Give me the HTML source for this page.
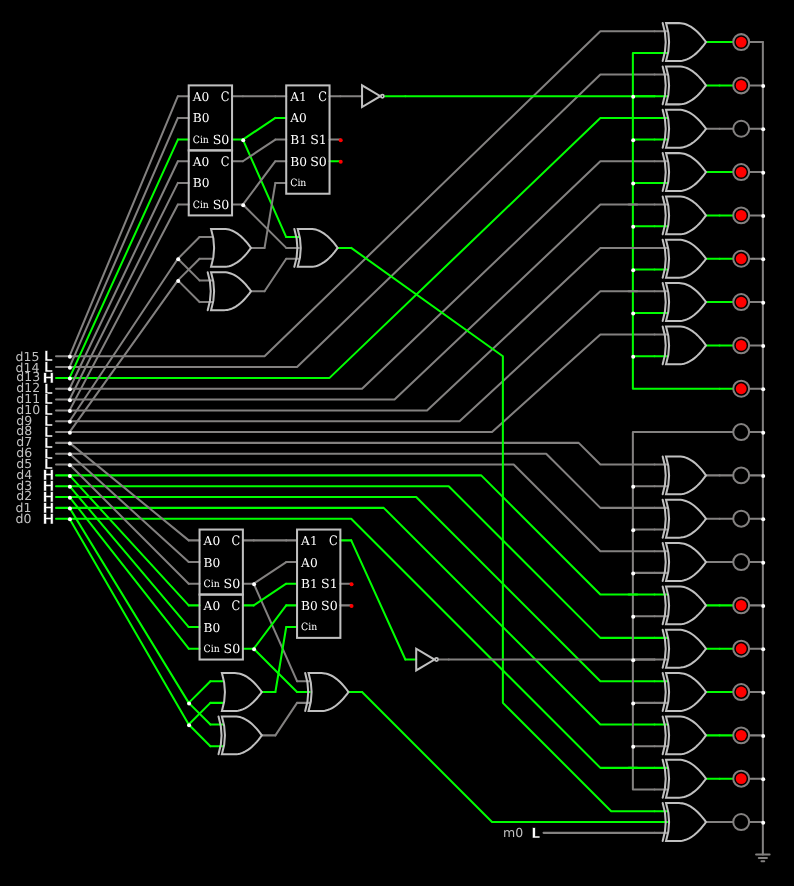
<!DOCTYPE html>
<html><head><meta charset="utf-8"><title>circuit</title>
<style>html,body{margin:0;padding:0;background:#000;overflow:hidden}svg{display:block;will-change:transform}.pin{font-family:"DejaVu Serif","Liberation Serif",serif;fill:#fff}.lv{font-family:"DejaVu Sans","Liberation Sans",sans-serif;font-weight:bold;font-size:14.2px;fill:#fff;stroke:#000;stroke-width:.5px}.lbl{font-family:"DejaVu Sans","Liberation Sans",sans-serif;font-size:12.5px;fill:#c0c0c0}</style></head><body>
<svg width="794" height="886" viewBox="0 0 794 886">
<rect width="794" height="886" fill="#000"/>
<g fill="none" stroke-width="2.03" stroke-linecap="round" stroke-linejoin="round">
<path d="M56.02 356.22 L69.56 356.22" stroke="#838180"/>
<path d="M56.02 367.05 L69.56 367.05" stroke="#838180"/>
<path d="M56.02 377.89 L69.56 377.89" stroke="#00ff00"/>
<path d="M56.02 388.72 L69.56 388.72" stroke="#838180"/>
<path d="M56.02 399.55 L69.56 399.55" stroke="#838180"/>
<path d="M56.02 410.39 L69.56 410.39" stroke="#838180"/>
<path d="M56.02 421.22 L69.56 421.22" stroke="#838180"/>
<path d="M56.02 432.05 L69.56 432.05" stroke="#838180"/>
<path d="M56.02 442.88 L69.56 442.88" stroke="#838180"/>
<path d="M56.02 453.72 L69.56 453.72" stroke="#838180"/>
<path d="M56.02 464.55 L69.56 464.55" stroke="#838180"/>
<path d="M56.02 475.38 L69.56 475.38" stroke="#00ff00"/>
<path d="M56.02 486.21 L69.56 486.21" stroke="#00ff00"/>
<path d="M56.02 497.05 L69.56 497.05" stroke="#00ff00"/>
<path d="M56.02 507.88 L69.56 507.88" stroke="#00ff00"/>
<path d="M56.02 518.71 L69.56 518.71" stroke="#00ff00"/>
<path d="M69.56 356.22 L264.55 356.22 L600.37 31.24 L654.53 31.24" stroke="#838180"/>
<path d="M69.56 367.05 L297.05 367.05 L600.37 74.57 L654.53 74.57" stroke="#838180"/>
<path d="M69.56 377.89 L329.55 377.89 L600.37 117.9 L654.53 117.9" stroke="#00ff00"/>
<path d="M69.56 388.72 L362.05 388.72 L600.37 161.23 L654.53 161.23" stroke="#838180"/>
<path d="M69.56 399.55 L394.54 399.55 L600.37 204.56 L654.53 204.56" stroke="#838180"/>
<path d="M69.56 410.39 L427.04 410.39 L600.37 247.89 L654.53 247.89" stroke="#838180"/>
<path d="M69.56 421.22 L459.54 421.22 L600.37 291.22 L654.53 291.22" stroke="#838180"/>
<path d="M69.56 432.05 L492.04 432.05 L600.37 334.56 L654.53 334.56" stroke="#838180"/>
<path d="M69.56 442.88 L578.7 442.88 L600.37 464.55 L654.53 464.55" stroke="#838180"/>
<path d="M69.56 453.72 L546.2 453.72 L600.37 507.88 L654.53 507.88" stroke="#838180"/>
<path d="M69.56 464.55 L513.7 464.55 L600.37 551.21 L654.53 551.21" stroke="#838180"/>
<path d="M69.56 475.38 L481.21 475.38 L600.37 594.54 L654.53 594.54" stroke="#00ff00"/>
<path d="M69.56 486.21 L448.71 486.21 L600.37 637.87 L654.53 637.87" stroke="#00ff00"/>
<path d="M69.56 497.05 L416.21 497.05 L600.37 681.21 L654.53 681.21" stroke="#00ff00"/>
<path d="M69.56 507.88 L383.71 507.88 L600.37 724.54 L654.53 724.54" stroke="#00ff00"/>
<path d="M69.56 518.71 L351.21 518.71 L600.37 767.87 L654.53 767.87" stroke="#00ff00"/>
<path d="M69.56 356.22 L177.89 96.23" stroke="#838180"/>
<path d="M69.56 367.05 L177.89 117.9" stroke="#838180"/>
<path d="M69.56 377.89 L177.89 139.57" stroke="#00ff00"/>
<path d="M69.56 388.72 L177.89 161.23" stroke="#838180"/>
<path d="M69.56 399.55 L177.89 182.9" stroke="#838180"/>
<path d="M69.56 410.39 L177.89 204.56" stroke="#838180"/>
<path d="M69.56 421.22 L177.89 258.73" stroke="#838180"/>
<path d="M69.56 432.05 L177.89 280.39" stroke="#838180"/>
<path d="M69.56 442.88 L188.72 540.38" stroke="#838180"/>
<path d="M69.56 453.72 L188.72 562.04" stroke="#838180"/>
<path d="M69.56 464.55 L188.72 583.71" stroke="#838180"/>
<path d="M69.56 475.38 L188.72 605.38" stroke="#00ff00"/>
<path d="M69.56 486.21 L188.72 627.04" stroke="#00ff00"/>
<path d="M69.56 497.05 L188.72 648.71" stroke="#00ff00"/>
<path d="M69.56 507.88 L188.72 702.87" stroke="#00ff00"/>
<path d="M69.56 518.71 L188.72 724.54" stroke="#00ff00"/>
<path d="M177.89 96.23 L188.72 96.23" stroke="#838180"/>
<path d="M177.89 117.9 L188.72 117.9" stroke="#838180"/>
<path d="M177.89 139.57 L188.72 139.57" stroke="#00ff00"/>
<path d="M232.05 96.23 L242.88 96.23" stroke="#838180"/>
<path d="M232.05 139.57 L242.88 139.57" stroke="#00ff00"/>
<path d="M177.89 161.23 L188.72 161.23" stroke="#838180"/>
<path d="M177.89 182.9 L188.72 182.9" stroke="#838180"/>
<path d="M177.89 204.56 L188.72 204.56" stroke="#838180"/>
<path d="M232.05 161.23 L242.88 161.23" stroke="#838180"/>
<path d="M232.05 204.56 L242.88 204.56" stroke="#838180"/>
<path d="M275.38 96.23 L286.22 96.23" stroke="#838180"/>
<path d="M275.38 117.9 L286.22 117.9" stroke="#00ff00"/>
<path d="M275.38 139.57 L286.22 139.57" stroke="#838180"/>
<path d="M275.38 161.23 L286.22 161.23" stroke="#838180"/>
<path d="M275.38 182.9 L286.22 182.9" stroke="#838180"/>
<path d="M329.55 96.23 L340.38 96.23" stroke="#838180"/>
<path d="M329.55 139.57 L340.38 139.57" stroke="#838180"/>
<path d="M329.55 161.23 L340.38 161.23" stroke="#00ff00"/>
<path d="M242.88 96.23 L275.38 96.23" stroke="#838180"/>
<path d="M242.88 139.57 L275.38 117.9" stroke="#00ff00"/>
<path d="M242.88 139.57 L286.22 237.06" stroke="#00ff00"/>
<path d="M242.88 161.23 L275.38 139.57" stroke="#838180"/>
<path d="M242.88 204.56 L275.38 161.23" stroke="#838180"/>
<path d="M242.88 204.56 L286.22 247.89" stroke="#838180"/>
<path d="M177.89 258.73 L199.55 237.06" stroke="#838180"/>
<path d="M177.89 258.73 L199.55 280.39" stroke="#838180"/>
<path d="M177.89 280.39 L199.55 258.73" stroke="#838180"/>
<path d="M177.89 280.39 L199.55 302.06" stroke="#838180"/>
<path d="M199.55 237.06 L212.42 237.06" stroke="#838180"/>
<path d="M199.55 258.73 L212.42 258.73" stroke="#838180"/>
<path d="M251.01 247.89 L264.55 247.89" stroke="#838180"/>
<path d="M199.55 280.39 L212.42 280.39" stroke="#838180"/>
<path d="M199.55 302.06 L212.42 302.06" stroke="#838180"/>
<path d="M251.01 291.22 L264.55 291.22" stroke="#838180"/>
<path d="M264.55 247.89 L275.38 182.9" stroke="#838180"/>
<path d="M264.55 291.22 L286.22 258.73" stroke="#838180"/>
<path d="M286.22 237.06 L299.08 237.06" stroke="#00ff00"/>
<path d="M286.22 247.89 L299.08 247.89" stroke="#838180"/>
<path d="M286.22 258.73 L299.08 258.73" stroke="#838180"/>
<path d="M337.67 247.89 L351.21 247.89" stroke="#00ff00"/>
<path d="M351.21 247.89 L502.87 356.22 L502.87 702.87 L611.2 811.2 L654.53 811.2" stroke="#00ff00"/>
<path d="M340.38 96.23 L362.05 96.23" stroke="#838180"/>
<path d="M385.07 96.23 L405.38 96.23" stroke="#00ff00"/>
<path d="M405.38 96.23 L632.87 96.23 L654.53 96.23" stroke="#00ff00"/>
<path d="M188.72 540.38 L199.55 540.38" stroke="#838180"/>
<path d="M188.72 562.04 L199.55 562.04" stroke="#838180"/>
<path d="M188.72 583.71 L199.55 583.71" stroke="#838180"/>
<path d="M242.88 540.38 L253.72 540.38" stroke="#838180"/>
<path d="M242.88 583.71 L253.72 583.71" stroke="#838180"/>
<path d="M188.72 605.38 L199.55 605.38" stroke="#00ff00"/>
<path d="M188.72 627.04 L199.55 627.04" stroke="#00ff00"/>
<path d="M188.72 648.71 L199.55 648.71" stroke="#00ff00"/>
<path d="M242.88 605.38 L253.72 605.38" stroke="#00ff00"/>
<path d="M242.88 648.71 L253.72 648.71" stroke="#00ff00"/>
<path d="M286.22 540.38 L297.05 540.38" stroke="#838180"/>
<path d="M286.22 562.04 L297.05 562.04" stroke="#838180"/>
<path d="M286.22 583.71 L297.05 583.71" stroke="#00ff00"/>
<path d="M286.22 605.38 L297.05 605.38" stroke="#00ff00"/>
<path d="M286.22 627.04 L297.05 627.04" stroke="#00ff00"/>
<path d="M340.38 540.38 L351.21 540.38" stroke="#00ff00"/>
<path d="M340.38 583.71 L351.21 583.71" stroke="#838180"/>
<path d="M340.38 605.38 L351.21 605.38" stroke="#838180"/>
<path d="M253.72 540.38 L286.22 540.38" stroke="#838180"/>
<path d="M253.72 583.71 L286.22 562.04" stroke="#838180"/>
<path d="M253.72 583.71 L297.05 681.21" stroke="#838180"/>
<path d="M253.72 605.38 L286.22 583.71" stroke="#00ff00"/>
<path d="M253.72 648.71 L286.22 605.38" stroke="#00ff00"/>
<path d="M253.72 648.71 L297.05 692.04" stroke="#00ff00"/>
<path d="M188.72 702.87 L210.39 681.21" stroke="#00ff00"/>
<path d="M188.72 702.87 L210.39 724.54" stroke="#00ff00"/>
<path d="M188.72 724.54 L210.39 702.87" stroke="#00ff00"/>
<path d="M188.72 724.54 L210.39 746.2" stroke="#00ff00"/>
<path d="M210.39 681.21 L223.25 681.21" stroke="#00ff00"/>
<path d="M210.39 702.87 L223.25 702.87" stroke="#00ff00"/>
<path d="M261.84 692.04 L275.38 692.04" stroke="#00ff00"/>
<path d="M210.39 724.54 L223.25 724.54" stroke="#00ff00"/>
<path d="M210.39 746.2 L223.25 746.2" stroke="#00ff00"/>
<path d="M261.84 735.37 L275.38 735.37" stroke="#838180"/>
<path d="M275.38 692.04 L286.22 627.04" stroke="#00ff00"/>
<path d="M275.38 735.37 L297.05 702.87" stroke="#838180"/>
<path d="M297.05 681.21 L309.91 681.21" stroke="#838180"/>
<path d="M297.05 692.04 L309.91 692.04" stroke="#00ff00"/>
<path d="M297.05 702.87 L309.91 702.87" stroke="#838180"/>
<path d="M348.5 692.04 L362.05 692.04" stroke="#00ff00"/>
<path d="M362.05 692.04 L492.04 822.03 L654.53 822.03" stroke="#00ff00"/>
<path d="M351.21 540.38 L405.38 659.54" stroke="#00ff00"/>
<path d="M405.38 659.54 L416.21 659.54" stroke="#00ff00"/>
<path d="M439.23 659.54 L448.71 659.54" stroke="#838180"/>
<path d="M448.71 659.54 L632.87 659.54 L654.53 659.54" stroke="#838180"/>
<path d="M654.53 52.9 L632.87 52.9 L632.87 388.72 L719.53 388.72" stroke="#00ff00"/>
<path d="M632.87 96.23 L654.53 96.23" stroke="#00ff00"/>
<path d="M632.87 139.57 L654.53 139.57" stroke="#00ff00"/>
<path d="M632.87 182.9 L654.53 182.9" stroke="#00ff00"/>
<path d="M632.87 226.23 L654.53 226.23" stroke="#00ff00"/>
<path d="M632.87 269.56 L654.53 269.56" stroke="#00ff00"/>
<path d="M632.87 312.89 L654.53 312.89" stroke="#00ff00"/>
<path d="M632.87 356.22 L654.53 356.22" stroke="#00ff00"/>
<path d="M719.53 432.05 L632.87 432.05 L632.87 789.53 L654.53 789.53" stroke="#838180"/>
<path d="M632.87 486.21 L654.53 486.21" stroke="#838180"/>
<path d="M632.87 529.55 L654.53 529.55" stroke="#838180"/>
<path d="M632.87 572.88 L654.53 572.88" stroke="#838180"/>
<path d="M632.87 616.21 L654.53 616.21" stroke="#838180"/>
<path d="M632.87 659.54 L654.53 659.54" stroke="#838180"/>
<path d="M632.87 702.87 L654.53 702.87" stroke="#838180"/>
<path d="M632.87 746.2 L654.53 746.2" stroke="#838180"/>
<path d="M628.53 204.56 L637.2 204.56" stroke="#838180"/>
<path d="M628.53 247.89 L637.2 247.89" stroke="#838180"/>
<path d="M628.53 291.22 L637.2 291.22" stroke="#838180"/>
<path d="M628.53 594.54 L637.2 594.54" stroke="#00ff00"/>
<path d="M628.53 767.87 L637.2 767.87" stroke="#00ff00"/>
<path d="M654.53 31.24 L667.4 31.24" stroke="#838180"/>
<path d="M654.53 52.9 L667.4 52.9" stroke="#00ff00"/>
<path d="M705.99 42.07 L719.53 42.07" stroke="#00ff00"/>
<path d="M654.53 74.57 L667.4 74.57" stroke="#838180"/>
<path d="M654.53 96.23 L667.4 96.23" stroke="#00ff00"/>
<path d="M705.99 85.4 L719.53 85.4" stroke="#00ff00"/>
<path d="M654.53 117.9 L667.4 117.9" stroke="#00ff00"/>
<path d="M654.53 139.57 L667.4 139.57" stroke="#00ff00"/>
<path d="M705.99 128.73 L719.53 128.73" stroke="#838180"/>
<path d="M654.53 161.23 L667.4 161.23" stroke="#838180"/>
<path d="M654.53 182.9 L667.4 182.9" stroke="#00ff00"/>
<path d="M705.99 172.06 L719.53 172.06" stroke="#00ff00"/>
<path d="M654.53 204.56 L667.4 204.56" stroke="#838180"/>
<path d="M654.53 226.23 L667.4 226.23" stroke="#00ff00"/>
<path d="M705.99 215.39 L719.53 215.39" stroke="#00ff00"/>
<path d="M654.53 247.89 L667.4 247.89" stroke="#838180"/>
<path d="M654.53 269.56 L667.4 269.56" stroke="#00ff00"/>
<path d="M705.99 258.73 L719.53 258.73" stroke="#00ff00"/>
<path d="M654.53 291.22 L667.4 291.22" stroke="#838180"/>
<path d="M654.53 312.89 L667.4 312.89" stroke="#00ff00"/>
<path d="M705.99 302.06 L719.53 302.06" stroke="#00ff00"/>
<path d="M654.53 334.56 L667.4 334.56" stroke="#838180"/>
<path d="M654.53 356.22 L667.4 356.22" stroke="#00ff00"/>
<path d="M705.99 345.39 L719.53 345.39" stroke="#00ff00"/>
<path d="M654.53 464.55 L667.4 464.55" stroke="#838180"/>
<path d="M654.53 486.21 L667.4 486.21" stroke="#838180"/>
<path d="M705.99 475.38 L719.53 475.38" stroke="#838180"/>
<path d="M654.53 507.88 L667.4 507.88" stroke="#838180"/>
<path d="M654.53 529.55 L667.4 529.55" stroke="#838180"/>
<path d="M705.99 518.71 L719.53 518.71" stroke="#838180"/>
<path d="M654.53 551.21 L667.4 551.21" stroke="#838180"/>
<path d="M654.53 572.88 L667.4 572.88" stroke="#838180"/>
<path d="M705.99 562.04 L719.53 562.04" stroke="#838180"/>
<path d="M654.53 594.54 L667.4 594.54" stroke="#00ff00"/>
<path d="M654.53 616.21 L667.4 616.21" stroke="#838180"/>
<path d="M705.99 605.38 L719.53 605.38" stroke="#00ff00"/>
<path d="M654.53 637.87 L667.4 637.87" stroke="#00ff00"/>
<path d="M654.53 659.54 L667.4 659.54" stroke="#838180"/>
<path d="M705.99 648.71 L719.53 648.71" stroke="#00ff00"/>
<path d="M654.53 681.21 L667.4 681.21" stroke="#00ff00"/>
<path d="M654.53 702.87 L667.4 702.87" stroke="#838180"/>
<path d="M705.99 692.04 L719.53 692.04" stroke="#00ff00"/>
<path d="M654.53 724.54 L667.4 724.54" stroke="#00ff00"/>
<path d="M654.53 746.2 L667.4 746.2" stroke="#838180"/>
<path d="M705.99 735.37 L719.53 735.37" stroke="#00ff00"/>
<path d="M654.53 767.87 L667.4 767.87" stroke="#00ff00"/>
<path d="M654.53 789.53 L667.4 789.53" stroke="#838180"/>
<path d="M705.99 778.7 L719.53 778.7" stroke="#00ff00"/>
<path d="M654.53 811.2 L667.4 811.2" stroke="#00ff00"/>
<path d="M654.53 822.03 L667.4 822.03" stroke="#00ff00"/>
<path d="M654.53 832.86 L667.4 832.86" stroke="#838180"/>
<path d="M705.99 822.03 L719.53 822.03" stroke="#838180"/>
<path d="M719.53 42.07 L733.07 42.07" stroke="#00ff00"/>
<path d="M749.32 42.07 L762.86 42.07" stroke="#838180"/>
<path d="M719.53 85.4 L733.07 85.4" stroke="#00ff00"/>
<path d="M749.32 85.4 L762.86 85.4" stroke="#838180"/>
<path d="M719.53 128.73 L733.07 128.73" stroke="#838180"/>
<path d="M749.32 128.73 L762.86 128.73" stroke="#838180"/>
<path d="M719.53 172.06 L733.07 172.06" stroke="#00ff00"/>
<path d="M749.32 172.06 L762.86 172.06" stroke="#838180"/>
<path d="M719.53 215.39 L733.07 215.39" stroke="#00ff00"/>
<path d="M749.32 215.39 L762.86 215.39" stroke="#838180"/>
<path d="M719.53 258.73 L733.07 258.73" stroke="#00ff00"/>
<path d="M749.32 258.73 L762.86 258.73" stroke="#838180"/>
<path d="M719.53 302.06 L733.07 302.06" stroke="#00ff00"/>
<path d="M749.32 302.06 L762.86 302.06" stroke="#838180"/>
<path d="M719.53 345.39 L733.07 345.39" stroke="#00ff00"/>
<path d="M749.32 345.39 L762.86 345.39" stroke="#838180"/>
<path d="M719.53 388.72 L733.07 388.72" stroke="#00ff00"/>
<path d="M749.32 388.72 L762.86 388.72" stroke="#838180"/>
<path d="M719.53 432.05 L733.07 432.05" stroke="#838180"/>
<path d="M749.32 432.05 L762.86 432.05" stroke="#838180"/>
<path d="M719.53 475.38 L733.07 475.38" stroke="#838180"/>
<path d="M749.32 475.38 L762.86 475.38" stroke="#838180"/>
<path d="M719.53 518.71 L733.07 518.71" stroke="#838180"/>
<path d="M749.32 518.71 L762.86 518.71" stroke="#838180"/>
<path d="M719.53 562.04 L733.07 562.04" stroke="#838180"/>
<path d="M749.32 562.04 L762.86 562.04" stroke="#838180"/>
<path d="M719.53 605.38 L733.07 605.38" stroke="#00ff00"/>
<path d="M749.32 605.38 L762.86 605.38" stroke="#838180"/>
<path d="M719.53 648.71 L733.07 648.71" stroke="#00ff00"/>
<path d="M749.32 648.71 L762.86 648.71" stroke="#838180"/>
<path d="M719.53 692.04 L733.07 692.04" stroke="#00ff00"/>
<path d="M749.32 692.04 L762.86 692.04" stroke="#838180"/>
<path d="M719.53 735.37 L733.07 735.37" stroke="#00ff00"/>
<path d="M749.32 735.37 L762.86 735.37" stroke="#838180"/>
<path d="M719.53 778.7 L733.07 778.7" stroke="#00ff00"/>
<path d="M749.32 778.7 L762.86 778.7" stroke="#838180"/>
<path d="M719.53 822.03 L733.07 822.03" stroke="#838180"/>
<path d="M749.32 822.03 L762.86 822.03" stroke="#838180"/>
<path d="M762.86 42.07 L762.86 854.53" stroke="#838180"/>
<path d="M756.09 854.53 L769.63 854.53" stroke="#838180"/>
<path d="M758.8 857.92 L766.92 857.92" stroke="#838180"/>
<path d="M761.51 861.3 L764.21 861.3" stroke="#838180"/>
<path d="M543.5 832.86 L654.53 832.86" stroke="#838180"/>
</g>
<rect x="188.72" y="85.4" width="43.33" height="65" fill="none" stroke="#c0c0c0" stroke-width="2.03"/>
<rect x="188.72" y="150.4" width="43.33" height="65" fill="none" stroke="#c0c0c0" stroke-width="2.03"/>
<rect x="286.22" y="85.4" width="43.33" height="108.33" fill="none" stroke="#c0c0c0" stroke-width="2.03"/>
<path d="M224 228.94 L225.68 229.01 L227.37 229.23 L229.06 229.6 L230.75 230.12 L232.44 230.79 L234.13 231.6 L235.81 232.56 L237.5 233.68 L239.19 234.93 L240.88 236.34 L242.57 237.9 L244.26 239.6 L245.94 241.45 L247.63 243.45 L249.32 245.6 L251.01 247.89 L249.32 250.19 L247.63 252.34 L245.94 254.34 L244.26 256.19 L242.57 257.89 L240.88 259.45 L239.19 260.85 L237.5 262.11 L235.81 263.22 L234.13 264.18 L232.44 265 L230.75 265.67 L229.06 266.18 L227.37 266.55 L225.68 266.78 L224 266.85 L211.06 266.85 L213.35 257.37 L214.11 247.89 L213.35 238.41 L211.06 228.94Z" fill="none" stroke="#c0c0c0" stroke-width="2.03" stroke-linejoin="miter"/>
<path d="M224 272.27 L225.68 272.34 L227.37 272.56 L229.06 272.93 L230.75 273.45 L232.44 274.12 L234.13 274.93 L235.81 275.9 L237.5 277.01 L239.19 278.27 L240.88 279.67 L242.57 281.23 L244.26 282.93 L245.94 284.78 L247.63 286.78 L249.32 288.93 L251.01 291.22 L249.32 293.52 L247.63 295.67 L245.94 297.67 L244.26 299.52 L242.57 301.22 L240.88 302.78 L239.19 304.18 L237.5 305.44 L235.81 306.55 L234.13 307.52 L232.44 308.33 L230.75 309 L229.06 309.52 L227.37 309.89 L225.68 310.11 L224 310.18 L211.06 310.18 L213.35 300.7 L214.11 291.22 L213.35 281.75 L211.06 272.27Z" fill="none" stroke="#c0c0c0" stroke-width="2.03" stroke-linejoin="miter"/>
<path d="M207.68 272.27 L209.96 281.75 L210.72 291.22 L209.96 300.7 L207.68 310.18" fill="none" stroke="#c0c0c0" stroke-width="2.03" stroke-linecap="round" stroke-linejoin="round"/>
<path d="M310.66 228.94 L312.35 229.01 L314.03 229.23 L315.72 229.6 L317.41 230.12 L319.1 230.79 L320.79 231.6 L322.48 232.56 L324.16 233.68 L325.85 234.93 L327.54 236.34 L329.23 237.9 L330.92 239.6 L332.61 241.45 L334.3 243.45 L335.98 245.6 L337.67 247.89 L335.98 250.19 L334.3 252.34 L332.61 254.34 L330.92 256.19 L329.23 257.89 L327.54 259.45 L325.85 260.85 L324.16 262.11 L322.48 263.22 L320.79 264.18 L319.1 265 L317.41 265.67 L315.72 266.18 L314.03 266.55 L312.35 266.78 L310.66 266.85 L297.73 266.85 L300.01 257.37 L300.77 247.89 L300.01 238.41 L297.73 228.94Z" fill="none" stroke="#c0c0c0" stroke-width="2.03" stroke-linejoin="miter"/>
<path d="M294.34 228.94 L296.63 238.41 L297.39 247.89 L296.63 257.37 L294.34 266.85" fill="none" stroke="#c0c0c0" stroke-width="2.03" stroke-linecap="round" stroke-linejoin="round"/>
<path d="M362.05 85.4 L362.05 107.07 L380.33 96.23Z" fill="none" stroke="#c0c0c0" stroke-width="2.03"/>
<circle cx="382.36" cy="96.23" r="1.56" fill="none" stroke="#c0c0c0" stroke-width="1.73"/>
<rect x="199.55" y="529.55" width="43.33" height="65" fill="none" stroke="#c0c0c0" stroke-width="2.03"/>
<rect x="199.55" y="594.54" width="43.33" height="65" fill="none" stroke="#c0c0c0" stroke-width="2.03"/>
<rect x="297.05" y="529.55" width="43.33" height="108.33" fill="none" stroke="#c0c0c0" stroke-width="2.03"/>
<path d="M234.83 673.08 L236.52 673.15 L238.2 673.38 L239.89 673.75 L241.58 674.27 L243.27 674.93 L244.96 675.75 L246.65 676.71 L248.34 677.82 L250.02 679.08 L251.71 680.49 L253.4 682.04 L255.09 683.74 L256.78 685.6 L258.47 687.59 L260.15 689.74 L261.84 692.04 L260.15 694.33 L258.47 696.48 L256.78 698.48 L255.09 700.33 L253.4 702.04 L251.71 703.59 L250.02 705 L248.34 706.26 L246.65 707.37 L244.96 708.33 L243.27 709.14 L241.58 709.81 L239.89 710.33 L238.2 710.7 L236.52 710.92 L234.83 711 L221.9 711 L224.18 701.52 L224.94 692.04 L224.18 682.56 L221.9 673.08Z" fill="none" stroke="#c0c0c0" stroke-width="2.03" stroke-linejoin="miter"/>
<path d="M234.83 716.41 L236.52 716.49 L238.2 716.71 L239.89 717.08 L241.58 717.6 L243.27 718.26 L244.96 719.08 L246.65 720.04 L248.34 721.15 L250.02 722.41 L251.71 723.82 L253.4 725.37 L255.09 727.08 L256.78 728.93 L258.47 730.93 L260.15 733.07 L261.84 735.37 L260.15 737.66 L258.47 739.81 L256.78 741.81 L255.09 743.66 L253.4 745.37 L251.71 746.92 L250.02 748.33 L248.34 749.59 L246.65 750.7 L244.96 751.66 L243.27 752.48 L241.58 753.14 L239.89 753.66 L238.2 754.03 L236.52 754.25 L234.83 754.33 L221.9 754.33 L224.18 744.85 L224.94 735.37 L224.18 725.89 L221.9 716.41Z" fill="none" stroke="#c0c0c0" stroke-width="2.03" stroke-linejoin="miter"/>
<path d="M218.51 716.41 L220.8 725.89 L221.56 735.37 L220.8 744.85 L218.51 754.33" fill="none" stroke="#c0c0c0" stroke-width="2.03" stroke-linecap="round" stroke-linejoin="round"/>
<path d="M321.49 673.08 L323.18 673.15 L324.87 673.38 L326.56 673.75 L328.24 674.27 L329.93 674.93 L331.62 675.75 L333.31 676.71 L335 677.82 L336.69 679.08 L338.37 680.49 L340.06 682.04 L341.75 683.74 L343.44 685.6 L345.13 687.59 L346.82 689.74 L348.5 692.04 L346.82 694.33 L345.13 696.48 L343.44 698.48 L341.75 700.33 L340.06 702.04 L338.37 703.59 L336.69 705 L335 706.26 L333.31 707.37 L331.62 708.33 L329.93 709.14 L328.24 709.81 L326.56 710.33 L324.87 710.7 L323.18 710.92 L321.49 711 L308.56 711 L310.84 701.52 L311.61 692.04 L310.84 682.56 L308.56 673.08Z" fill="none" stroke="#c0c0c0" stroke-width="2.03" stroke-linejoin="miter"/>
<path d="M305.17 673.08 L307.46 682.56 L308.22 692.04 L307.46 701.52 L305.17 711" fill="none" stroke="#c0c0c0" stroke-width="2.03" stroke-linecap="round" stroke-linejoin="round"/>
<path d="M416.21 648.71 L416.21 670.37 L434.49 659.54Z" fill="none" stroke="#c0c0c0" stroke-width="2.03"/>
<circle cx="436.52" cy="659.54" r="1.56" fill="none" stroke="#c0c0c0" stroke-width="1.73"/>
<path d="M678.97 23.11 L680.66 23.19 L682.35 23.41 L684.04 23.78 L685.73 24.3 L687.41 24.96 L689.1 25.78 L690.79 26.74 L692.48 27.85 L694.17 29.11 L695.86 30.52 L697.55 32.07 L699.23 33.78 L700.92 35.63 L702.61 37.63 L704.3 39.77 L705.99 42.07 L704.3 44.37 L702.61 46.51 L700.92 48.51 L699.23 50.36 L697.55 52.07 L695.86 53.62 L694.17 55.03 L692.48 56.29 L690.79 57.4 L689.1 58.36 L687.41 59.18 L685.73 59.84 L684.04 60.36 L682.35 60.73 L680.66 60.95 L678.97 61.03 L666.04 61.03 L668.33 51.55 L669.09 42.07 L668.33 32.59 L666.04 23.11Z" fill="none" stroke="#c0c0c0" stroke-width="2.03" stroke-linejoin="miter"/>
<path d="M662.66 23.11 L664.94 32.59 L665.7 42.07 L664.94 51.55 L662.66 61.03" fill="none" stroke="#c0c0c0" stroke-width="2.03" stroke-linecap="round" stroke-linejoin="round"/>
<path d="M678.97 66.44 L680.66 66.52 L682.35 66.74 L684.04 67.11 L685.73 67.63 L687.41 68.3 L689.1 69.11 L690.79 70.07 L692.48 71.18 L694.17 72.44 L695.86 73.85 L697.55 75.4 L699.23 77.11 L700.92 78.96 L702.61 80.96 L704.3 83.11 L705.99 85.4 L704.3 87.7 L702.61 89.84 L700.92 91.84 L699.23 93.7 L697.55 95.4 L695.86 96.95 L694.17 98.36 L692.48 99.62 L690.79 100.73 L689.1 101.69 L687.41 102.51 L685.73 103.17 L684.04 103.69 L682.35 104.06 L680.66 104.28 L678.97 104.36 L666.04 104.36 L668.33 94.88 L669.09 85.4 L668.33 75.92 L666.04 66.44Z" fill="none" stroke="#c0c0c0" stroke-width="2.03" stroke-linejoin="miter"/>
<path d="M662.66 66.44 L664.94 75.92 L665.7 85.4 L664.94 94.88 L662.66 104.36" fill="none" stroke="#c0c0c0" stroke-width="2.03" stroke-linecap="round" stroke-linejoin="round"/>
<path d="M678.97 109.78 L680.66 109.85 L682.35 110.07 L684.04 110.44 L685.73 110.96 L687.41 111.63 L689.1 112.44 L690.79 113.4 L692.48 114.51 L694.17 115.77 L695.86 117.18 L697.55 118.74 L699.23 120.44 L700.92 122.29 L702.61 124.29 L704.3 126.44 L705.99 128.73 L704.3 131.03 L702.61 133.18 L700.92 135.17 L699.23 137.03 L697.55 138.73 L695.86 140.28 L694.17 141.69 L692.48 142.95 L690.79 144.06 L689.1 145.02 L687.41 145.84 L685.73 146.5 L684.04 147.02 L682.35 147.39 L680.66 147.62 L678.97 147.69 L666.04 147.69 L668.33 138.21 L669.09 128.73 L668.33 119.25 L666.04 109.78Z" fill="none" stroke="#c0c0c0" stroke-width="2.03" stroke-linejoin="miter"/>
<path d="M662.66 109.78 L664.94 119.25 L665.7 128.73 L664.94 138.21 L662.66 147.69" fill="none" stroke="#c0c0c0" stroke-width="2.03" stroke-linecap="round" stroke-linejoin="round"/>
<path d="M678.97 153.11 L680.66 153.18 L682.35 153.4 L684.04 153.77 L685.73 154.29 L687.41 154.96 L689.1 155.77 L690.79 156.73 L692.48 157.85 L694.17 159.1 L695.86 160.51 L697.55 162.07 L699.23 163.77 L700.92 165.62 L702.61 167.62 L704.3 169.77 L705.99 172.06 L704.3 174.36 L702.61 176.51 L700.92 178.51 L699.23 180.36 L697.55 182.06 L695.86 183.62 L694.17 185.02 L692.48 186.28 L690.79 187.39 L689.1 188.36 L687.41 189.17 L685.73 189.84 L684.04 190.35 L682.35 190.72 L680.66 190.95 L678.97 191.02 L666.04 191.02 L668.33 181.54 L669.09 172.06 L668.33 162.58 L666.04 153.11Z" fill="none" stroke="#c0c0c0" stroke-width="2.03" stroke-linejoin="miter"/>
<path d="M662.66 153.11 L664.94 162.58 L665.7 172.06 L664.94 181.54 L662.66 191.02" fill="none" stroke="#c0c0c0" stroke-width="2.03" stroke-linecap="round" stroke-linejoin="round"/>
<path d="M678.97 196.44 L680.66 196.51 L682.35 196.73 L684.04 197.1 L685.73 197.62 L687.41 198.29 L689.1 199.1 L690.79 200.07 L692.48 201.18 L694.17 202.44 L695.86 203.84 L697.55 205.4 L699.23 207.1 L700.92 208.95 L702.61 210.95 L704.3 213.1 L705.99 215.39 L704.3 217.69 L702.61 219.84 L700.92 221.84 L699.23 223.69 L697.55 225.39 L695.86 226.95 L694.17 228.35 L692.48 229.61 L690.79 230.72 L689.1 231.69 L687.41 232.5 L685.73 233.17 L684.04 233.69 L682.35 234.06 L680.66 234.28 L678.97 234.35 L666.04 234.35 L668.33 224.87 L669.09 215.39 L668.33 205.92 L666.04 196.44Z" fill="none" stroke="#c0c0c0" stroke-width="2.03" stroke-linejoin="miter"/>
<path d="M662.66 196.44 L664.94 205.92 L665.7 215.39 L664.94 224.87 L662.66 234.35" fill="none" stroke="#c0c0c0" stroke-width="2.03" stroke-linecap="round" stroke-linejoin="round"/>
<path d="M678.97 239.77 L680.66 239.84 L682.35 240.06 L684.04 240.44 L685.73 240.95 L687.41 241.62 L689.1 242.43 L690.79 243.4 L692.48 244.51 L694.17 245.77 L695.86 247.17 L697.55 248.73 L699.23 250.43 L700.92 252.28 L702.61 254.28 L704.3 256.43 L705.99 258.73 L704.3 261.02 L702.61 263.17 L700.92 265.17 L699.23 267.02 L697.55 268.72 L695.86 270.28 L694.17 271.69 L692.48 272.94 L690.79 274.05 L689.1 275.02 L687.41 275.83 L685.73 276.5 L684.04 277.02 L682.35 277.39 L680.66 277.61 L678.97 277.68 L666.04 277.68 L668.33 268.2 L669.09 258.73 L668.33 249.25 L666.04 239.77Z" fill="none" stroke="#c0c0c0" stroke-width="2.03" stroke-linejoin="miter"/>
<path d="M662.66 239.77 L664.94 249.25 L665.7 258.73 L664.94 268.2 L662.66 277.68" fill="none" stroke="#c0c0c0" stroke-width="2.03" stroke-linecap="round" stroke-linejoin="round"/>
<path d="M678.97 283.1 L680.66 283.17 L682.35 283.4 L684.04 283.77 L685.73 284.28 L687.41 284.95 L689.1 285.77 L690.79 286.73 L692.48 287.84 L694.17 289.1 L695.86 290.51 L697.55 292.06 L699.23 293.76 L700.92 295.61 L702.61 297.61 L704.3 299.76 L705.99 302.06 L704.3 304.35 L702.61 306.5 L700.92 308.5 L699.23 310.35 L697.55 312.05 L695.86 313.61 L694.17 315.02 L692.48 316.28 L690.79 317.39 L689.1 318.35 L687.41 319.16 L685.73 319.83 L684.04 320.35 L682.35 320.72 L680.66 320.94 L678.97 321.01 L666.04 321.01 L668.33 311.54 L669.09 302.06 L668.33 292.58 L666.04 283.1Z" fill="none" stroke="#c0c0c0" stroke-width="2.03" stroke-linejoin="miter"/>
<path d="M662.66 283.1 L664.94 292.58 L665.7 302.06 L664.94 311.54 L662.66 321.01" fill="none" stroke="#c0c0c0" stroke-width="2.03" stroke-linecap="round" stroke-linejoin="round"/>
<path d="M678.97 326.43 L680.66 326.51 L682.35 326.73 L684.04 327.1 L685.73 327.62 L687.41 328.28 L689.1 329.1 L690.79 330.06 L692.48 331.17 L694.17 332.43 L695.86 333.84 L697.55 335.39 L699.23 337.09 L700.92 338.95 L702.61 340.95 L704.3 343.09 L705.99 345.39 L704.3 347.68 L702.61 349.83 L700.92 351.83 L699.23 353.68 L697.55 355.39 L695.86 356.94 L694.17 358.35 L692.48 359.61 L690.79 360.72 L689.1 361.68 L687.41 362.49 L685.73 363.16 L684.04 363.68 L682.35 364.05 L680.66 364.27 L678.97 364.35 L666.04 364.35 L668.33 354.87 L669.09 345.39 L668.33 335.91 L666.04 326.43Z" fill="none" stroke="#c0c0c0" stroke-width="2.03" stroke-linejoin="miter"/>
<path d="M662.66 326.43 L664.94 335.91 L665.7 345.39 L664.94 354.87 L662.66 364.35" fill="none" stroke="#c0c0c0" stroke-width="2.03" stroke-linecap="round" stroke-linejoin="round"/>
<path d="M678.97 456.42 L680.66 456.5 L682.35 456.72 L684.04 457.09 L685.73 457.61 L687.41 458.28 L689.1 459.09 L690.79 460.05 L692.48 461.16 L694.17 462.42 L695.86 463.83 L697.55 465.38 L699.23 467.09 L700.92 468.94 L702.61 470.94 L704.3 473.09 L705.99 475.38 L704.3 477.68 L702.61 479.83 L700.92 481.82 L699.23 483.68 L697.55 485.38 L695.86 486.93 L694.17 488.34 L692.48 489.6 L690.79 490.71 L689.1 491.67 L687.41 492.49 L685.73 493.15 L684.04 493.67 L682.35 494.04 L680.66 494.27 L678.97 494.34 L666.04 494.34 L668.33 484.86 L669.09 475.38 L668.33 465.9 L666.04 456.42Z" fill="none" stroke="#c0c0c0" stroke-width="2.03" stroke-linejoin="miter"/>
<path d="M662.66 456.42 L664.94 465.9 L665.7 475.38 L664.94 484.86 L662.66 494.34" fill="none" stroke="#c0c0c0" stroke-width="2.03" stroke-linecap="round" stroke-linejoin="round"/>
<path d="M678.97 499.76 L680.66 499.83 L682.35 500.05 L684.04 500.42 L685.73 500.94 L687.41 501.61 L689.1 502.42 L690.79 503.38 L692.48 504.5 L694.17 505.75 L695.86 507.16 L697.55 508.72 L699.23 510.42 L700.92 512.27 L702.61 514.27 L704.3 516.42 L705.99 518.71 L704.3 521.01 L702.61 523.16 L700.92 525.16 L699.23 527.01 L697.55 528.71 L695.86 530.27 L694.17 531.67 L692.48 532.93 L690.79 534.04 L689.1 535 L687.41 535.82 L685.73 536.49 L684.04 537 L682.35 537.37 L680.66 537.6 L678.97 537.67 L666.04 537.67 L668.33 528.19 L669.09 518.71 L668.33 509.23 L666.04 499.76Z" fill="none" stroke="#c0c0c0" stroke-width="2.03" stroke-linejoin="miter"/>
<path d="M662.66 499.76 L664.94 509.23 L665.7 518.71 L664.94 528.19 L662.66 537.67" fill="none" stroke="#c0c0c0" stroke-width="2.03" stroke-linecap="round" stroke-linejoin="round"/>
<path d="M678.97 543.09 L680.66 543.16 L682.35 543.38 L684.04 543.75 L685.73 544.27 L687.41 544.94 L689.1 545.75 L690.79 546.72 L692.48 547.83 L694.17 549.09 L695.86 550.49 L697.55 552.05 L699.23 553.75 L700.92 555.6 L702.61 557.6 L704.3 559.75 L705.99 562.04 L704.3 564.34 L702.61 566.49 L700.92 568.49 L699.23 570.34 L697.55 572.04 L695.86 573.6 L694.17 575 L692.48 576.26 L690.79 577.37 L689.1 578.34 L687.41 579.15 L685.73 579.82 L684.04 580.34 L682.35 580.71 L680.66 580.93 L678.97 581 L666.04 581 L668.33 571.52 L669.09 562.04 L668.33 552.57 L666.04 543.09Z" fill="none" stroke="#c0c0c0" stroke-width="2.03" stroke-linejoin="miter"/>
<path d="M662.66 543.09 L664.94 552.57 L665.7 562.04 L664.94 571.52 L662.66 581" fill="none" stroke="#c0c0c0" stroke-width="2.03" stroke-linecap="round" stroke-linejoin="round"/>
<path d="M678.97 586.42 L680.66 586.49 L682.35 586.71 L684.04 587.08 L685.73 587.6 L687.41 588.27 L689.1 589.08 L690.79 590.05 L692.48 591.16 L694.17 592.42 L695.86 593.82 L697.55 595.38 L699.23 597.08 L700.92 598.93 L702.61 600.93 L704.3 603.08 L705.99 605.38 L704.3 607.67 L702.61 609.82 L700.92 611.82 L699.23 613.67 L697.55 615.37 L695.86 616.93 L694.17 618.33 L692.48 619.59 L690.79 620.7 L689.1 621.67 L687.41 622.48 L685.73 623.15 L684.04 623.67 L682.35 624.04 L680.66 624.26 L678.97 624.33 L666.04 624.33 L668.33 614.85 L669.09 605.38 L668.33 595.9 L666.04 586.42Z" fill="none" stroke="#c0c0c0" stroke-width="2.03" stroke-linejoin="miter"/>
<path d="M662.66 586.42 L664.94 595.9 L665.7 605.38 L664.94 614.85 L662.66 624.33" fill="none" stroke="#c0c0c0" stroke-width="2.03" stroke-linecap="round" stroke-linejoin="round"/>
<path d="M678.97 629.75 L680.66 629.82 L682.35 630.05 L684.04 630.42 L685.73 630.93 L687.41 631.6 L689.1 632.42 L690.79 633.38 L692.48 634.49 L694.17 635.75 L695.86 637.15 L697.55 638.71 L699.23 640.41 L700.92 642.26 L702.61 644.26 L704.3 646.41 L705.99 648.71 L704.3 651 L702.61 653.15 L700.92 655.15 L699.23 657 L697.55 658.7 L695.86 660.26 L694.17 661.67 L692.48 662.92 L690.79 664.04 L689.1 665 L687.41 665.81 L685.73 666.48 L684.04 667 L682.35 667.37 L680.66 667.59 L678.97 667.66 L666.04 667.66 L668.33 658.19 L669.09 648.71 L668.33 639.23 L666.04 629.75Z" fill="none" stroke="#c0c0c0" stroke-width="2.03" stroke-linejoin="miter"/>
<path d="M662.66 629.75 L664.94 639.23 L665.7 648.71 L664.94 658.19 L662.66 667.66" fill="none" stroke="#c0c0c0" stroke-width="2.03" stroke-linecap="round" stroke-linejoin="round"/>
<path d="M678.97 673.08 L680.66 673.15 L682.35 673.38 L684.04 673.75 L685.73 674.27 L687.41 674.93 L689.1 675.75 L690.79 676.71 L692.48 677.82 L694.17 679.08 L695.86 680.49 L697.55 682.04 L699.23 683.74 L700.92 685.6 L702.61 687.59 L704.3 689.74 L705.99 692.04 L704.3 694.33 L702.61 696.48 L700.92 698.48 L699.23 700.33 L697.55 702.04 L695.86 703.59 L694.17 705 L692.48 706.26 L690.79 707.37 L689.1 708.33 L687.41 709.14 L685.73 709.81 L684.04 710.33 L682.35 710.7 L680.66 710.92 L678.97 711 L666.04 711 L668.33 701.52 L669.09 692.04 L668.33 682.56 L666.04 673.08Z" fill="none" stroke="#c0c0c0" stroke-width="2.03" stroke-linejoin="miter"/>
<path d="M662.66 673.08 L664.94 682.56 L665.7 692.04 L664.94 701.52 L662.66 711" fill="none" stroke="#c0c0c0" stroke-width="2.03" stroke-linecap="round" stroke-linejoin="round"/>
<path d="M678.97 716.41 L680.66 716.49 L682.35 716.71 L684.04 717.08 L685.73 717.6 L687.41 718.26 L689.1 719.08 L690.79 720.04 L692.48 721.15 L694.17 722.41 L695.86 723.82 L697.55 725.37 L699.23 727.08 L700.92 728.93 L702.61 730.93 L704.3 733.07 L705.99 735.37 L704.3 737.66 L702.61 739.81 L700.92 741.81 L699.23 743.66 L697.55 745.37 L695.86 746.92 L694.17 748.33 L692.48 749.59 L690.79 750.7 L689.1 751.66 L687.41 752.48 L685.73 753.14 L684.04 753.66 L682.35 754.03 L680.66 754.25 L678.97 754.33 L666.04 754.33 L668.33 744.85 L669.09 735.37 L668.33 725.89 L666.04 716.41Z" fill="none" stroke="#c0c0c0" stroke-width="2.03" stroke-linejoin="miter"/>
<path d="M662.66 716.41 L664.94 725.89 L665.7 735.37 L664.94 744.85 L662.66 754.33" fill="none" stroke="#c0c0c0" stroke-width="2.03" stroke-linecap="round" stroke-linejoin="round"/>
<path d="M678.97 759.74 L680.66 759.82 L682.35 760.04 L684.04 760.41 L685.73 760.93 L687.41 761.59 L689.1 762.41 L690.79 763.37 L692.48 764.48 L694.17 765.74 L695.86 767.15 L697.55 768.7 L699.23 770.41 L700.92 772.26 L702.61 774.26 L704.3 776.4 L705.99 778.7 L704.3 781 L702.61 783.14 L700.92 785.14 L699.23 786.99 L697.55 788.7 L695.86 790.25 L694.17 791.66 L692.48 792.92 L690.79 794.03 L689.1 794.99 L687.41 795.81 L685.73 796.47 L684.04 796.99 L682.35 797.36 L680.66 797.58 L678.97 797.66 L666.04 797.66 L668.33 788.18 L669.09 778.7 L668.33 769.22 L666.04 759.74Z" fill="none" stroke="#c0c0c0" stroke-width="2.03" stroke-linejoin="miter"/>
<path d="M662.66 759.74 L664.94 769.22 L665.7 778.7 L664.94 788.18 L662.66 797.66" fill="none" stroke="#c0c0c0" stroke-width="2.03" stroke-linecap="round" stroke-linejoin="round"/>
<path d="M678.97 803.07 L680.66 803.15 L682.35 803.37 L684.04 803.74 L685.73 804.26 L687.41 804.93 L689.1 805.74 L690.79 806.7 L692.48 807.81 L694.17 809.07 L695.86 810.48 L697.55 812.03 L699.23 813.74 L700.92 815.59 L702.61 817.59 L704.3 819.74 L705.99 822.03 L704.3 824.33 L702.61 826.47 L700.92 828.47 L699.23 830.33 L697.55 832.03 L695.86 833.58 L694.17 834.99 L692.48 836.25 L690.79 837.36 L689.1 838.32 L687.41 839.14 L685.73 839.8 L684.04 840.32 L682.35 840.69 L680.66 840.91 L678.97 840.99 L666.04 840.99 L668.33 831.51 L669.09 822.03 L668.33 812.55 L666.04 803.07Z" fill="none" stroke="#c0c0c0" stroke-width="2.03" stroke-linejoin="miter"/>
<path d="M662.66 803.07 L664.94 812.55 L665.7 822.03 L664.94 831.51 L662.66 840.99" fill="none" stroke="#c0c0c0" stroke-width="2.03" stroke-linecap="round" stroke-linejoin="round"/>
<circle cx="741.19" cy="42.07" r="7.96" fill="none" stroke="#838180" stroke-width="2.03"/>
<circle cx="741.19" cy="42.07" r="5.42" fill="#ff0000"/>
<circle cx="741.19" cy="85.4" r="7.96" fill="none" stroke="#838180" stroke-width="2.03"/>
<circle cx="741.19" cy="85.4" r="5.42" fill="#ff0000"/>
<circle cx="741.19" cy="128.73" r="7.96" fill="none" stroke="#838180" stroke-width="2.03"/>
<circle cx="741.19" cy="172.06" r="7.96" fill="none" stroke="#838180" stroke-width="2.03"/>
<circle cx="741.19" cy="172.06" r="5.42" fill="#ff0000"/>
<circle cx="741.19" cy="215.39" r="7.96" fill="none" stroke="#838180" stroke-width="2.03"/>
<circle cx="741.19" cy="215.39" r="5.42" fill="#ff0000"/>
<circle cx="741.19" cy="258.73" r="7.96" fill="none" stroke="#838180" stroke-width="2.03"/>
<circle cx="741.19" cy="258.73" r="5.42" fill="#ff0000"/>
<circle cx="741.19" cy="302.06" r="7.96" fill="none" stroke="#838180" stroke-width="2.03"/>
<circle cx="741.19" cy="302.06" r="5.42" fill="#ff0000"/>
<circle cx="741.19" cy="345.39" r="7.96" fill="none" stroke="#838180" stroke-width="2.03"/>
<circle cx="741.19" cy="345.39" r="5.42" fill="#ff0000"/>
<circle cx="741.19" cy="388.72" r="7.96" fill="none" stroke="#838180" stroke-width="2.03"/>
<circle cx="741.19" cy="388.72" r="5.42" fill="#ff0000"/>
<circle cx="741.19" cy="432.05" r="7.96" fill="none" stroke="#838180" stroke-width="2.03"/>
<circle cx="741.19" cy="475.38" r="7.96" fill="none" stroke="#838180" stroke-width="2.03"/>
<circle cx="741.19" cy="518.71" r="7.96" fill="none" stroke="#838180" stroke-width="2.03"/>
<circle cx="741.19" cy="562.04" r="7.96" fill="none" stroke="#838180" stroke-width="2.03"/>
<circle cx="741.19" cy="605.38" r="7.96" fill="none" stroke="#838180" stroke-width="2.03"/>
<circle cx="741.19" cy="605.38" r="5.42" fill="#ff0000"/>
<circle cx="741.19" cy="648.71" r="7.96" fill="none" stroke="#838180" stroke-width="2.03"/>
<circle cx="741.19" cy="648.71" r="5.42" fill="#ff0000"/>
<circle cx="741.19" cy="692.04" r="7.96" fill="none" stroke="#838180" stroke-width="2.03"/>
<circle cx="741.19" cy="692.04" r="5.42" fill="#ff0000"/>
<circle cx="741.19" cy="735.37" r="7.96" fill="none" stroke="#838180" stroke-width="2.03"/>
<circle cx="741.19" cy="735.37" r="5.42" fill="#ff0000"/>
<circle cx="741.19" cy="778.7" r="7.96" fill="none" stroke="#838180" stroke-width="2.03"/>
<circle cx="741.19" cy="778.7" r="5.42" fill="#ff0000"/>
<circle cx="741.19" cy="822.03" r="7.96" fill="none" stroke="#838180" stroke-width="2.03"/>
<text transform="translate(48.34 360.9) rotate(0.04)" class="lv" text-anchor="middle">L</text>
<text transform="translate(15.55 360.9) rotate(0.04)" class="lbl">d15</text>
<text transform="translate(48.34 371.9) rotate(0.04)" class="lv" text-anchor="middle">L</text>
<text transform="translate(15.55 371.9) rotate(0.04)" class="lbl">d14</text>
<text transform="translate(48.34 382.9) rotate(0.04)" class="lv" text-anchor="middle">H</text>
<text transform="translate(16.35 380.9) rotate(0.04)" class="lbl">d13</text>
<text transform="translate(48.34 393.9) rotate(0.04)" class="lv" text-anchor="middle">L</text>
<text transform="translate(16.35 391.9) rotate(0.04)" class="lbl">d12</text>
<text transform="translate(48.34 403.9) rotate(0.04)" class="lv" text-anchor="middle">L</text>
<text transform="translate(16.35 402.9) rotate(0.04)" class="lbl">d11</text>
<text transform="translate(48.34 414.9) rotate(0.04)" class="lv" text-anchor="middle">L</text>
<text transform="translate(16.35 413.9) rotate(0.04)" class="lbl">d10</text>
<text transform="translate(48.34 425.9) rotate(0.04)" class="lv" text-anchor="middle">L</text>
<text transform="translate(16.35 424.9) rotate(0.04)" class="lbl">d9</text>
<text transform="translate(48.34 436.9) rotate(0.04)" class="lv" text-anchor="middle">L</text>
<text transform="translate(16.35 434.9) rotate(0.04)" class="lbl">d8</text>
<text transform="translate(48.34 447.9) rotate(0.04)" class="lv" text-anchor="middle">L</text>
<text transform="translate(16.35 445.9) rotate(0.04)" class="lbl">d7</text>
<text transform="translate(48.34 458.9) rotate(0.04)" class="lv" text-anchor="middle">L</text>
<text transform="translate(16.35 456.9) rotate(0.04)" class="lbl">d6</text>
<text transform="translate(48.34 468.9) rotate(0.04)" class="lv" text-anchor="middle">L</text>
<text transform="translate(16.35 467.9) rotate(0.04)" class="lbl">d5</text>
<text transform="translate(48.34 479.9) rotate(0.04)" class="lv" text-anchor="middle">H</text>
<text transform="translate(16.35 478.9) rotate(0.04)" class="lbl">d4</text>
<text transform="translate(48.34 490.9) rotate(0.04)" class="lv" text-anchor="middle">H</text>
<text transform="translate(16.35 489.9) rotate(0.04)" class="lbl">d3</text>
<text transform="translate(48.34 501.9) rotate(0.04)" class="lv" text-anchor="middle">H</text>
<text transform="translate(16.35 499.9) rotate(0.04)" class="lbl">d2</text>
<text transform="translate(48.34 512.9) rotate(0.04)" class="lv" text-anchor="middle">H</text>
<text transform="translate(15.55 511.9) rotate(0.04)" class="lbl">d1</text>
<text transform="translate(48.34 523.9) rotate(0.04)" class="lv" text-anchor="middle">H</text>
<text transform="translate(15.55 522.9) rotate(0.04)" class="lbl">d0</text>
<text transform="translate(192.78 100.9) rotate(0.04)" font-size="12.19" class="pin">A0</text>
<text transform="translate(192.78 121.9) rotate(0.04)" font-size="12.19" class="pin">B0</text>
<text transform="translate(192.78 142.9) rotate(0.04) scale(0.93 1)" font-size="10.02" class="pin">Cin</text>
<text transform="translate(229.34 100.9) rotate(0.04) scale(0.87 1)" font-size="13.07" class="pin" text-anchor="end">C</text>
<text transform="translate(229.34 143.9) rotate(0.04)" font-size="12.59" class="pin" text-anchor="end">S0</text>
<text transform="translate(192.78 165.9) rotate(0.04)" font-size="12.19" class="pin">A0</text>
<text transform="translate(192.78 186.9) rotate(0.04)" font-size="12.19" class="pin">B0</text>
<text transform="translate(192.78 207.9) rotate(0.04) scale(0.93 1)" font-size="10.02" class="pin">Cin</text>
<text transform="translate(229.34 165.9) rotate(0.04) scale(0.87 1)" font-size="13.07" class="pin" text-anchor="end">C</text>
<text transform="translate(229.34 208.9) rotate(0.04)" font-size="12.59" class="pin" text-anchor="end">S0</text>
<text transform="translate(290.28 100.9) rotate(0.04)" font-size="12.19" class="pin">A1</text>
<text transform="translate(290.28 121.9) rotate(0.04)" font-size="12.19" class="pin">A0</text>
<text transform="translate(290.28 143.9) rotate(0.04)" font-size="12.19" class="pin">B1</text>
<text transform="translate(290.28 165.9) rotate(0.04)" font-size="12.19" class="pin">B0</text>
<text transform="translate(290.28 185.9) rotate(0.04) scale(0.93 1)" font-size="10.02" class="pin">Cin</text>
<text transform="translate(326.84 100.9) rotate(0.04) scale(0.87 1)" font-size="13.07" class="pin" text-anchor="end">C</text>
<text transform="translate(326.84 143.9) rotate(0.04)" font-size="12.59" class="pin" text-anchor="end">S1</text>
<text transform="translate(326.84 165.9) rotate(0.04)" font-size="12.59" class="pin" text-anchor="end">S0</text>
<text transform="translate(203.62 544.9) rotate(0.04)" font-size="12.19" class="pin">A0</text>
<text transform="translate(203.62 566.9) rotate(0.04)" font-size="12.19" class="pin">B0</text>
<text transform="translate(203.62 586.9) rotate(0.04) scale(0.93 1)" font-size="10.02" class="pin">Cin</text>
<text transform="translate(240.18 544.9) rotate(0.04) scale(0.87 1)" font-size="13.07" class="pin" text-anchor="end">C</text>
<text transform="translate(240.18 587.9) rotate(0.04)" font-size="12.59" class="pin" text-anchor="end">S0</text>
<text transform="translate(203.62 609.9) rotate(0.04)" font-size="12.19" class="pin">A0</text>
<text transform="translate(203.62 631.9) rotate(0.04)" font-size="12.19" class="pin">B0</text>
<text transform="translate(203.62 651.9) rotate(0.04) scale(0.93 1)" font-size="10.02" class="pin">Cin</text>
<text transform="translate(240.18 609.9) rotate(0.04) scale(0.87 1)" font-size="13.07" class="pin" text-anchor="end">C</text>
<text transform="translate(240.18 652.9) rotate(0.04)" font-size="12.59" class="pin" text-anchor="end">S0</text>
<text transform="translate(301.11 544.9) rotate(0.04)" font-size="12.19" class="pin">A1</text>
<text transform="translate(301.11 566.9) rotate(0.04)" font-size="12.19" class="pin">A0</text>
<text transform="translate(301.11 587.9) rotate(0.04)" font-size="12.19" class="pin">B1</text>
<text transform="translate(301.11 609.9) rotate(0.04)" font-size="12.19" class="pin">B0</text>
<text transform="translate(301.11 629.9) rotate(0.04) scale(0.93 1)" font-size="10.02" class="pin">Cin</text>
<text transform="translate(337.67 544.9) rotate(0.04) scale(0.87 1)" font-size="13.07" class="pin" text-anchor="end">C</text>
<text transform="translate(337.67 587.9) rotate(0.04)" font-size="12.59" class="pin" text-anchor="end">S1</text>
<text transform="translate(337.67 609.9) rotate(0.04)" font-size="12.59" class="pin" text-anchor="end">S0</text>
<text transform="translate(535.82 837.9) rotate(0.04)" class="lv" text-anchor="middle">L</text>
<text transform="translate(503 836.9) rotate(0.04)" class="lbl" font-size="12.7">m0</text>
<circle cx="69.9" cy="356.83" r="2" fill="#fff"/>
<circle cx="69.9" cy="367.66" r="2" fill="#fff"/>
<circle cx="69.9" cy="378.5" r="2" fill="#fff"/>
<circle cx="69.9" cy="389.33" r="2" fill="#fff"/>
<circle cx="69.9" cy="400.16" r="2" fill="#fff"/>
<circle cx="69.9" cy="410.99" r="2" fill="#fff"/>
<circle cx="69.9" cy="421.83" r="2" fill="#fff"/>
<circle cx="69.9" cy="432.66" r="2" fill="#fff"/>
<circle cx="69.9" cy="443.49" r="2" fill="#fff"/>
<circle cx="69.9" cy="454.33" r="2" fill="#fff"/>
<circle cx="69.9" cy="465.16" r="2" fill="#fff"/>
<circle cx="69.9" cy="475.99" r="2" fill="#fff"/>
<circle cx="69.9" cy="486.82" r="2" fill="#fff"/>
<circle cx="69.9" cy="497.66" r="2" fill="#fff"/>
<circle cx="69.9" cy="508.49" r="2" fill="#fff"/>
<circle cx="69.9" cy="519.32" r="2" fill="#fff"/>
<circle cx="243.22" cy="140.17" r="2" fill="#fff"/>
<circle cx="243.22" cy="205.17" r="2" fill="#fff"/>
<circle cx="178.23" cy="259.34" r="2" fill="#fff"/>
<circle cx="178.23" cy="281" r="2" fill="#fff"/>
<circle cx="254.06" cy="584.32" r="2" fill="#fff"/>
<circle cx="254.06" cy="649.32" r="2" fill="#fff"/>
<circle cx="189.06" cy="703.48" r="2" fill="#fff"/>
<circle cx="189.06" cy="725.15" r="2" fill="#fff"/>
<circle cx="633.2" cy="96.84" r="2" fill="#fff"/>
<circle cx="633.2" cy="140.17" r="2" fill="#fff"/>
<circle cx="633.2" cy="183.51" r="2" fill="#fff"/>
<circle cx="633.2" cy="226.84" r="2" fill="#fff"/>
<circle cx="633.2" cy="270.17" r="2" fill="#fff"/>
<circle cx="633.2" cy="313.5" r="2" fill="#fff"/>
<circle cx="633.2" cy="356.83" r="2" fill="#fff"/>
<circle cx="633.2" cy="486.82" r="2" fill="#fff"/>
<circle cx="633.2" cy="530.16" r="2" fill="#fff"/>
<circle cx="633.2" cy="573.49" r="2" fill="#fff"/>
<circle cx="633.2" cy="616.82" r="2" fill="#fff"/>
<circle cx="633.2" cy="660.15" r="2" fill="#fff"/>
<circle cx="633.2" cy="703.48" r="2" fill="#fff"/>
<circle cx="633.2" cy="746.81" r="2" fill="#fff"/>
<circle cx="763.2" cy="86.01" r="2" fill="#fff"/>
<circle cx="763.2" cy="129.34" r="2" fill="#fff"/>
<circle cx="763.2" cy="172.67" r="2" fill="#fff"/>
<circle cx="763.2" cy="216" r="2" fill="#fff"/>
<circle cx="763.2" cy="259.34" r="2" fill="#fff"/>
<circle cx="763.2" cy="302.67" r="2" fill="#fff"/>
<circle cx="763.2" cy="346" r="2" fill="#fff"/>
<circle cx="763.2" cy="389.33" r="2" fill="#fff"/>
<circle cx="763.2" cy="432.66" r="2" fill="#fff"/>
<circle cx="763.2" cy="475.99" r="2" fill="#fff"/>
<circle cx="763.2" cy="519.32" r="2" fill="#fff"/>
<circle cx="763.2" cy="562.65" r="2" fill="#fff"/>
<circle cx="763.2" cy="605.98" r="2" fill="#fff"/>
<circle cx="763.2" cy="649.32" r="2" fill="#fff"/>
<circle cx="763.2" cy="692.65" r="2" fill="#fff"/>
<circle cx="763.2" cy="735.98" r="2" fill="#fff"/>
<circle cx="763.2" cy="779.31" r="2" fill="#fff"/>
<circle cx="763.2" cy="822.64" r="2" fill="#fff"/>
<circle cx="340.72" cy="140.17" r="2" fill="#f00"/>
<circle cx="340.72" cy="161.84" r="2" fill="#f00"/>
<circle cx="351.55" cy="584.32" r="2" fill="#f00"/>
<circle cx="351.55" cy="605.98" r="2" fill="#f00"/>
</svg></body></html>
